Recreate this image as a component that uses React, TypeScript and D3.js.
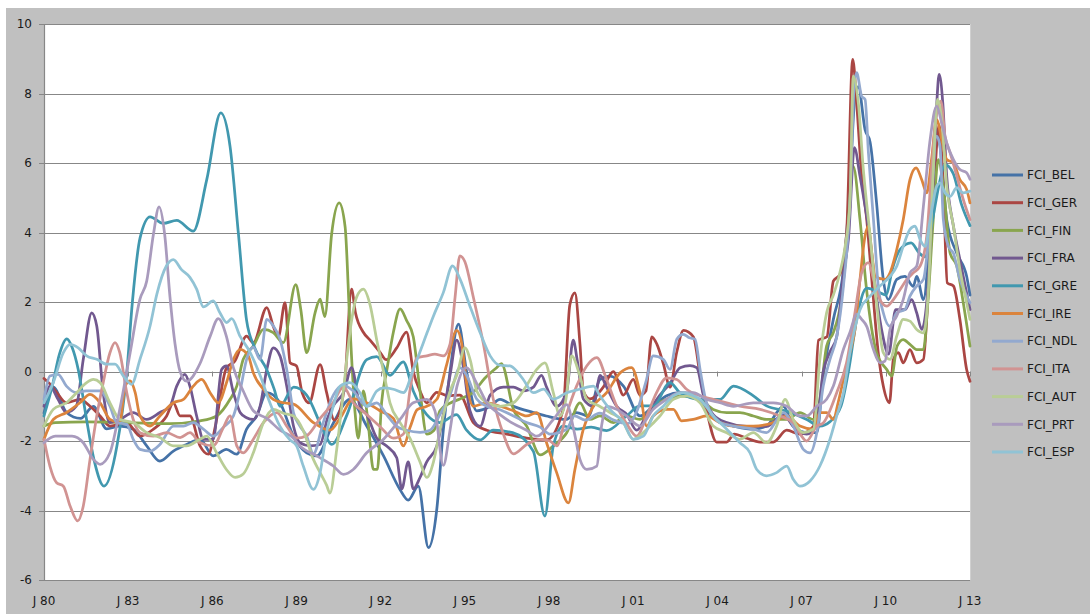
import React from "react";
import * as d3 from "d3";

type P = [number, number];

const seriesNames = ["FCI_BEL","FCI_GER","FCI_FIN","FCI_FRA","FCI_GRE","FCI_IRE","FCI_NDL","FCI_ITA","FCI_AUT","FCI_PRT","FCI_ESP"];
const seriesColors = ["#4572A7","#AA4643","#89A54E","#71588F","#4198AF","#DB843D","#93A9CF","#D19392","#B9CD96","#A99BBD","#91C3D5"];

const yTicks = [-6,-4,-2,0,2,4,6,8,10];
const xTickYears = [1980,1983,1986,1989,1992,1995,1998,2001,2004,2007,2010,2013];
const xTickLabels = ["J 80","J 83","J 86","J 89","J 92","J 95","J 98","J 01","J 04","J 07","J 10","J 13"];

const BEL: P[] = [[1980.0,-1.2],[1980.33,-0.45],[1980.8,-1.18],[1981.3,-1.35],[1981.76,-1.0],[1982.23,-1.65],[1982.7,-1.57],[1983.18,-1.66],[1983.66,-2.14],[1984.13,-2.58],[1984.61,-2.29],[1985.08,-2.1],[1985.56,-1.95],[1986.03,-2.43],[1986.5,-2.24],[1986.87,-2.38],[1987.22,-1.66],[1987.58,-1.28],[1987.94,-0.61],[1988.41,-0.9],[1988.89,-1.86],[1989.36,-2.34],[1989.72,-2.43],[1990.3,-1.5],[1990.9,-0.8],[1991.5,-1.57],[1992.1,-2.43],[1992.69,-3.4],[1992.98,-3.7],[1993.34,-3.3],[1993.7,-5.07],[1994.0,-3.95],[1994.23,-1.69],[1994.47,0.0],[1994.77,1.36],[1995.06,0.0],[1995.42,-1.13],[1995.9,-1.0],[1996.25,-0.8],[1996.73,-1.0],[1997.44,-1.18],[1997.9,-1.28],[1998.6,-1.38],[1998.98,-1.18],[1999.4,-1.28],[1999.81,-0.23],[2000.17,-0.13],[2000.65,-0.42],[2001.24,-1.28],[2001.7,-1.0],[2002.19,-0.7],[2002.66,-0.61],[2003.14,-0.7],[2003.61,-1.09],[2004.09,-1.47],[2004.57,-1.57],[2005.28,-1.66],[2005.75,-1.57],[2006.35,-1.0],[2006.7,-1.57],[2007.18,-1.76],[2007.54,-1.76],[2007.77,-0.13],[2008.13,1.5],[2008.49,2.94],[2008.72,5.33],[2008.9,7.92],[2009.02,8.2],[2009.26,6.96],[2009.44,6.6],[2009.67,4.85],[2009.91,2.65],[2010.09,2.07],[2010.39,2.65],[2010.68,2.74],[2010.98,2.45],[2011.1,2.74],[2011.34,2.07],[2011.63,4.85],[2011.81,6.96],[2011.93,6.5],[2012.17,4.37],[2012.53,3.4],[2012.88,2.74],[2013.0,2.2]];

const GER: P[] = [[1980.0,-0.2],[1980.2,-0.35],[1980.45,-0.6],[1980.8,-0.9],[1981.28,-0.8],[1981.64,-1.0],[1982.0,-1.28],[1982.35,-1.57],[1982.95,-1.47],[1983.42,-1.86],[1983.9,-1.66],[1984.37,-1.28],[1984.61,-0.9],[1984.85,-1.28],[1985.2,-1.28],[1985.56,-2.14],[1985.86,-2.38],[1986.1,-1.6],[1986.5,0.1],[1986.8,0.3],[1987.22,1.02],[1987.46,0.83],[1987.94,1.84],[1988.17,1.3],[1988.35,1.0],[1988.59,1.98],[1988.77,0.25],[1989.0,0.16],[1989.2,-0.61],[1989.45,-0.9],[1989.84,0.2],[1990.07,-0.6],[1990.35,-1.4],[1990.7,-0.5],[1990.96,2.37],[1991.1,1.69],[1991.38,1.13],[1991.62,0.9],[1991.97,0.56],[1992.2,0.34],[1992.57,0.68],[1992.92,1.13],[1993.16,0.0],[1993.4,-0.56],[1993.64,-0.9],[1994.0,-0.6],[1994.4,-0.7],[1994.82,-0.68],[1995.3,-1.47],[1995.78,-1.69],[1996.49,-1.8],[1997.2,-1.92],[1997.91,-1.97],[1998.5,-1.1],[1998.74,1.92],[1998.92,2.26],[1999.1,0.79],[1999.22,-0.56],[1999.46,-0.79],[1999.93,-0.45],[2000.29,0.0],[2000.65,-0.68],[2001.0,-0.23],[2001.24,-0.68],[2001.45,-0.56],[2001.66,1.0],[2001.84,0.79],[2002.07,0.23],[2002.31,-0.45],[2002.55,0.56],[2002.79,1.18],[2003.14,1.0],[2003.38,-0.11],[2003.62,-1.13],[2003.97,-2.03],[2004.33,-2.03],[2004.6,-1.8],[2005.04,-1.92],[2005.52,-2.03],[2005.99,-2.03],[2006.47,-1.69],[2006.94,-1.8],[2007.42,-1.58],[2007.6,0.9],[2007.9,1.0],[2008.13,2.6],[2008.37,2.8],[2008.6,3.95],[2008.82,8.98],[2008.96,7.73],[2009.14,5.62],[2009.32,4.37],[2009.5,2.65],[2009.73,0.54],[2009.91,-0.42],[2010.13,-0.9],[2010.27,0.35],[2010.45,0.54],[2010.62,0.25],[2010.86,0.63],[2011.1,0.25],[2011.34,0.35],[2011.52,2.46],[2011.72,5.33],[2011.9,7.1],[2012.05,5.33],[2012.19,2.55],[2012.41,2.46],[2012.64,1.5],[2012.88,0.06],[2013.0,-0.28]];

const FIN: P[] = [[1980.0,-1.57],[1980.4,-1.47],[1981.5,-1.45],[1983.0,-1.47],[1984.5,-1.5],[1985.56,-1.42],[1986.15,-1.28],[1986.63,-0.8],[1986.87,-0.42],[1987.1,0.35],[1987.46,0.73],[1987.82,1.21],[1988.17,1.12],[1988.53,0.83],[1988.97,2.5],[1989.15,1.79],[1989.36,0.54],[1989.66,1.69],[1989.84,2.08],[1990.01,1.58],[1990.25,3.95],[1990.52,4.85],[1990.73,4.17],[1990.9,1.35],[1991.08,-1.13],[1991.2,-1.92],[1991.38,-0.56],[1991.55,-1.47],[1991.74,-2.82],[1991.88,-2.82],[1992.03,-0.9],[1992.21,0.0],[1992.45,1.13],[1992.69,1.8],[1992.92,1.47],[1993.16,1.0],[1993.4,-0.56],[1993.64,-1.8],[1993.9,-1.69],[1994.11,-1.13],[1994.5,-0.9],[1994.82,-0.79],[1995.3,-0.6],[1995.7,-0.2],[1996.13,0.11],[1996.3,0.23],[1996.73,-1.09],[1997.2,-1.57],[1997.68,-2.4],[1998.15,-2.14],[1998.63,-1.76],[1999.1,-0.9],[1999.45,-1.38],[1999.81,-1.28],[2000.3,-1.47],[2000.76,-1.28],[2001.24,-1.38],[2001.71,-1.0],[2002.19,-0.8],[2002.66,-0.7],[2003.38,-0.8],[2003.85,-1.09],[2004.33,-1.18],[2004.8,-1.18],[2005.28,-1.28],[2005.75,-1.38],[2006.47,-1.38],[2006.94,-1.18],[2007.42,-1.38],[2007.65,-0.8],[2007.89,0.73],[2008.13,1.12],[2008.4,2.0],[2008.6,3.5],[2008.84,5.9],[2009.08,4.37],[2009.3,2.46],[2009.67,0.54],[2010.03,0.06],[2010.21,-0.13],[2010.4,0.73],[2010.62,0.92],[2010.86,0.78],[2011.1,0.63],[2011.34,0.63],[2011.5,2.0],[2011.69,4.37],[2011.87,6.1],[2012.05,5.33],[2012.29,3.41],[2012.53,3.03],[2012.76,1.98],[2013.0,0.73]];

const FRA: P[] = [[1980.0,-1.0],[1980.21,-0.42],[1980.5,-0.8],[1980.8,-1.18],[1981.15,-1.0],[1981.4,0.35],[1981.7,1.69],[1981.88,1.31],[1982.11,-0.61],[1982.35,-1.47],[1982.7,-1.38],[1983.18,-1.18],[1983.66,-1.38],[1984.13,-1.18],[1984.49,-1.0],[1984.73,-0.42],[1985.02,-0.08],[1985.2,-0.42],[1985.44,-1.28],[1985.68,-1.95],[1986.03,-1.95],[1986.33,0.06],[1986.5,0.16],[1986.75,-0.61],[1986.99,-1.18],[1987.22,-1.33],[1987.46,-1.38],[1987.7,-1.0],[1987.94,0.06],[1988.17,0.68],[1988.41,0.45],[1988.65,-0.42],[1988.89,-1.57],[1989.12,-2.05],[1989.48,-2.14],[1989.84,-2.1],[1990.1,-1.35],[1990.3,-1.0],[1990.7,-0.56],[1990.96,0.11],[1991.26,-1.0],[1991.5,-1.24],[1991.86,-1.92],[1992.2,-2.14],[1992.57,-2.48],[1992.75,-3.38],[1992.98,-2.6],[1993.16,-3.38],[1993.4,-3.05],[1993.64,-2.6],[1994.0,-2.14],[1994.23,-1.24],[1994.47,-0.11],[1994.71,0.9],[1994.95,0.11],[1995.18,-1.13],[1995.54,-1.58],[1995.9,-0.68],[1996.37,-0.45],[1996.73,-0.45],[1997.08,-0.56],[1997.44,-0.45],[1997.73,-0.11],[1997.91,-0.45],[1998.27,-1.0],[1998.63,-0.56],[1998.86,0.9],[1999.0,0.34],[1999.22,-0.79],[1999.58,-1.0],[1999.82,-0.11],[2000.05,-0.45],[2000.41,-1.0],[2000.77,-1.24],[2001.12,-1.69],[2001.48,-1.24],[2001.95,-0.68],[2002.31,-0.34],[2002.67,0.11],[2003.02,0.17],[2003.26,0.11],[2003.5,-0.68],[2003.85,-1.24],[2004.33,-1.47],[2005.04,-1.58],[2005.75,-1.58],[2006.35,-1.24],[2006.7,-1.58],[2007.18,-1.8],[2007.54,-1.47],[2007.77,0.0],[2008.01,0.56],[2008.25,1.0],[2008.49,2.82],[2008.67,3.83],[2008.88,6.44],[2009.08,5.62],[2009.26,4.76],[2009.44,3.8],[2009.62,2.46],[2009.85,1.2],[2010.1,0.5],[2010.35,1.78],[2010.68,1.78],[2010.92,2.07],[2011.1,1.69],[2011.28,1.21],[2011.46,2.0],[2011.63,4.37],[2011.81,7.64],[2011.9,8.55],[2012.03,7.73],[2012.17,5.62],[2012.41,4.18],[2012.64,3.22],[2012.88,2.26],[2013.0,1.78]];

const GRE: P[] = [[1980.0,-1.28],[1980.3,-0.4],[1980.55,0.5],[1980.81,0.94],[1981.0,0.7],[1981.22,0.06],[1981.5,-1.3],[1981.8,-2.6],[1982.14,-3.3],[1982.6,-2.14],[1982.95,-0.03],[1983.15,2.0],[1983.42,3.83],[1983.78,4.45],[1984.25,4.26],[1984.73,4.35],[1985.32,4.04],[1985.8,5.52],[1986.3,7.44],[1986.63,6.48],[1986.93,3.95],[1987.22,1.47],[1987.5,0.7],[1987.94,0.05],[1988.2,-0.5],[1988.41,-1.0],[1988.9,-0.45],[1989.36,-0.68],[1989.95,-1.69],[1990.25,-2.1],[1990.8,-1.24],[1991.5,0.34],[1991.86,0.43],[1992.33,-0.11],[1992.8,0.28],[1993.16,-0.56],[1993.64,-1.24],[1994.11,-1.47],[1994.7,-1.24],[1995.06,-1.69],[1995.54,-1.97],[1996.01,-1.69],[1996.7,-1.76],[1997.44,-2.3],[1997.85,-4.16],[1998.15,-2.14],[1998.5,-1.57],[1999.0,-1.66],[1999.5,-1.6],[2000.05,-1.7],[2000.76,-1.28],[2001.24,-0.99],[2001.71,-0.99],[2002.31,-0.32],[2002.66,-0.61],[2003.38,-0.8],[2004.09,-0.8],[2004.57,-0.42],[2005.28,-0.7],[2005.75,-0.99],[2006.47,-1.14],[2007.18,-1.38],[2007.65,-1.57],[2008.0,-1.45],[2008.4,-1.0],[2008.7,0.15],[2008.96,1.5],[2009.32,2.4],[2009.7,2.3],[2010.0,2.2],[2010.25,3.0],[2010.5,3.5],[2010.9,3.7],[2011.2,3.4],[2011.4,3.3],[2011.65,4.3],[2011.93,5.5],[2012.1,5.95],[2012.4,5.7],[2012.7,4.8],[2013.0,4.2]];

const IRE: P[] = [[1980.0,-1.95],[1980.33,-1.38],[1980.8,-1.18],[1981.28,-0.9],[1981.64,-0.66],[1982.0,-0.9],[1982.35,-1.38],[1982.7,-1.47],[1982.89,-0.42],[1983.07,-0.27],[1983.25,-0.61],[1983.42,-1.28],[1983.78,-1.57],[1984.13,-1.28],[1984.61,-0.9],[1984.97,-0.8],[1985.32,-0.42],[1985.62,-0.23],[1985.92,-0.61],[1986.21,-0.9],[1986.5,-0.33],[1986.75,0.35],[1986.99,0.64],[1987.28,0.45],[1987.46,-0.04],[1987.82,-0.51],[1988.17,-0.8],[1988.53,-0.9],[1988.89,-0.94],[1989.6,-1.47],[1990.19,-1.69],[1990.55,-1.35],[1991.02,-0.79],[1991.5,-0.9],[1991.97,-1.13],[1992.45,-1.35],[1992.81,-2.14],[1993.05,-1.6],[1993.3,-1.1],[1993.64,-1.0],[1994.0,-0.8],[1994.35,0.2],[1994.71,1.18],[1994.89,0.79],[1995.06,-0.34],[1995.3,-1.0],[1995.78,-0.9],[1996.25,-1.0],[1996.73,-1.13],[1997.2,-1.28],[1997.56,-1.18],[1997.91,-2.05],[1998.27,-2.91],[1998.69,-3.78],[1998.92,-2.82],[1999.22,-1.66],[1999.58,-1.0],[2000.05,-0.61],[2000.53,-0.04],[2000.94,0.11],[2001.24,-0.61],[2001.48,-1.57],[2001.71,-1.28],[2002.19,-1.09],[2002.43,-1.09],[2002.72,-1.42],[2003.14,-1.38],[2003.61,-1.28],[2004.09,-1.47],[2004.57,-1.57],[2005.28,-1.57],[2005.99,-1.47],[2006.47,-1.28],[2006.94,-1.57],[2007.42,-1.66],[2007.65,-1.18],[2007.89,-1.18],[2008.13,-1.38],[2008.3,-0.9],[2008.49,-0.23],[2008.72,0.54],[2008.9,1.2],[2009.08,2.65],[2009.26,3.9],[2009.38,4.18],[2009.5,3.41],[2009.62,2.74],[2009.97,2.65],[2010.15,2.84],[2010.39,3.51],[2010.62,4.37],[2010.86,5.52],[2011.08,5.86],[2011.28,5.52],[2011.46,5.14],[2011.63,6.1],[2011.81,7.25],[2011.99,6.68],[2012.17,6.1],[2012.41,6.0],[2012.64,5.52],[2012.88,5.24],[2013.0,4.85]];

const NDL: P[] = [[1980.0,-0.8],[1980.21,-0.13],[1980.5,-0.08],[1980.8,-0.42],[1981.16,-0.61],[1981.5,-0.56],[1982.0,-0.56],[1982.35,-1.0],[1982.59,-1.47],[1982.95,-1.52],[1983.18,-1.95],[1983.42,-2.24],[1983.78,-2.29],[1984.13,-2.1],[1984.61,-1.57],[1984.97,-1.57],[1985.32,-1.47],[1985.68,-1.66],[1986.03,-1.86],[1986.4,-1.6],[1986.75,-1.28],[1987.0,-0.51],[1987.22,0.35],[1987.46,0.7],[1987.7,0.35],[1987.94,1.5],[1988.17,1.31],[1988.41,0.93],[1988.65,0.06],[1988.89,-1.18],[1989.12,-1.57],[1989.36,-1.86],[1989.6,-2.37],[1989.95,-1.47],[1990.31,-0.68],[1990.67,-0.4],[1991.02,-0.56],[1991.5,-1.0],[1991.86,-0.9],[1992.21,-1.24],[1992.57,-1.58],[1992.92,-1.69],[1993.4,-1.75],[1993.76,-1.69],[1994.11,-1.24],[1994.47,-0.68],[1994.82,0.11],[1995.06,-0.11],[1995.42,-0.79],[1995.78,-1.0],[1996.25,-1.1],[1996.73,-1.28],[1997.2,-1.47],[1997.68,-1.6],[1998.03,-1.8],[1998.63,-1.66],[1998.9,-1.28],[1999.3,-1.4],[1999.8,-1.2],[2000.3,-1.4],[2000.8,-1.5],[2001.1,-1.2],[2001.45,-0.3],[2001.71,0.45],[2002.07,0.35],[2002.31,0.06],[2002.55,0.93],[2002.78,1.07],[2003.0,0.97],[2003.2,0.93],[2003.38,0.06],[2003.61,-0.9],[2004.09,-1.47],[2004.57,-1.57],[2005.28,-1.66],[2005.75,-1.76],[2006.35,-1.18],[2006.7,-1.57],[2007.06,-2.24],[2007.3,-2.34],[2007.54,-1.76],[2007.77,-0.42],[2008.01,0.35],[2008.25,1.0],[2008.49,2.46],[2008.72,4.85],[2008.87,8.2],[2008.96,8.6],[2009.14,7.92],[2009.26,7.83],[2009.38,6.3],[2009.56,4.37],[2009.73,2.46],[2009.91,1.69],[2010.15,1.3],[2010.39,1.69],[2010.68,1.78],[2010.86,2.17],[2011.1,2.46],[2011.34,2.65],[2011.58,4.37],[2011.81,6.77],[2011.93,6.5],[2012.05,4.37],[2012.23,3.6],[2012.41,3.4],[2012.64,2.65],[2012.88,2.17],[2013.0,1.98]];

const ITA: P[] = [[1980.0,-1.95],[1980.21,-2.72],[1980.45,-3.2],[1980.69,-3.3],[1980.93,-3.87],[1981.2,-4.3],[1981.4,-3.87],[1981.64,-2.53],[1981.88,-1.28],[1982.11,-0.32],[1982.35,0.54],[1982.53,0.83],[1982.7,0.54],[1982.95,-0.61],[1983.18,-1.38],[1983.42,-1.76],[1983.9,-1.86],[1984.37,-1.76],[1984.85,-1.9],[1985.2,-1.76],[1985.56,-2.05],[1986.03,-2.14],[1986.4,-1.6],[1986.63,-1.28],[1986.87,-2.14],[1987.1,-2.34],[1987.46,-1.95],[1987.82,-1.47],[1988.3,-1.18],[1988.65,-1.57],[1989.0,-1.92],[1989.36,-1.85],[1989.84,-1.35],[1990.3,-0.9],[1990.67,-0.45],[1991.02,-0.9],[1991.5,-1.24],[1991.97,-1.58],[1992.45,-1.92],[1992.81,-1.8],[1993.05,-0.5],[1993.28,0.39],[1993.64,0.45],[1993.93,0.5],[1994.23,0.45],[1994.47,0.79],[1994.65,2.14],[1994.82,3.33],[1995.0,3.16],[1995.3,2.14],[1995.66,0.79],[1996.01,-0.79],[1996.37,-1.8],[1996.73,-2.37],[1997.2,-2.1],[1997.68,-1.95],[1998.03,-2.0],[1998.27,-2.14],[1998.63,-1.2],[1998.98,-0.42],[1999.34,0.16],[1999.7,0.4],[2000.05,-0.23],[2000.41,-1.0],[2000.76,-1.5],[2001.12,-1.86],[2001.48,-1.28],[2001.83,-0.61],[2002.19,-0.18],[2002.55,-0.23],[2002.9,-0.51],[2003.38,-0.7],[2003.85,-0.8],[2004.33,-0.9],[2004.8,-1.0],[2005.52,-1.09],[2006.23,-1.28],[2006.7,-1.47],[2007.18,-2.0],[2007.54,-1.57],[2007.77,-1.48],[2008.25,-0.61],[2008.6,0.25],[2008.9,1.69],[2009.14,2.84],[2009.38,3.13],[2009.56,2.65],[2009.73,2.17],[2010.03,1.88],[2010.27,2.07],[2010.51,2.36],[2010.75,2.65],[2010.98,2.84],[2011.22,3.03],[2011.46,3.9],[2011.63,5.8],[2011.81,7.44],[2011.96,7.78],[2012.11,6.77],[2012.29,6.3],[2012.53,5.62],[2012.76,4.95],[2013.0,4.37]];

const AUT: P[] = [[1980.0,-1.57],[1980.33,-1.09],[1980.8,-0.9],[1981.16,-0.61],[1981.52,-0.32],[1981.76,-0.23],[1982.0,-0.32],[1982.35,-0.9],[1982.7,-1.38],[1983.18,-1.47],[1983.66,-1.76],[1984.13,-1.9],[1984.61,-2.14],[1985.08,-2.14],[1985.56,-1.95],[1985.8,-1.86],[1986.15,-2.34],[1986.5,-2.82],[1986.81,-3.05],[1987.1,-2.95],[1987.46,-2.34],[1987.82,-1.47],[1988.17,-1.09],[1988.53,-1.2],[1988.89,-1.28],[1989.24,-1.7],[1989.6,-2.53],[1989.84,-2.91],[1990.07,-3.27],[1990.19,-3.5],[1990.43,-2.25],[1990.67,-0.56],[1990.9,1.13],[1991.14,2.14],[1991.38,2.37],[1991.62,1.92],[1991.86,0.9],[1992.1,0.0],[1992.33,-0.9],[1992.69,-1.47],[1993.04,-1.92],[1993.4,-2.6],[1993.64,-3.05],[1993.88,-2.6],[1994.11,-1.69],[1994.5,-0.5],[1994.71,-0.11],[1995.0,0.68],[1995.2,0.3],[1995.42,-0.56],[1995.8,-0.9],[1996.25,-1.0],[1996.73,-0.9],[1997.2,-0.4],[1997.56,0.06],[1997.85,0.25],[1998.15,-0.61],[1998.39,-1.28],[1998.6,-0.8],[1998.8,0.45],[1999.1,-0.13],[1999.34,-0.8],[1999.8,-1.0],[2000.17,-1.18],[2000.6,-1.4],[2001.0,-1.95],[2001.48,-1.66],[2001.95,-1.28],[2002.43,-0.8],[2002.9,-0.7],[2003.38,-0.9],[2003.85,-1.57],[2004.33,-1.76],[2004.8,-1.95],[2005.28,-1.76],[2005.75,-2.05],[2006.11,-1.57],[2006.41,-0.8],[2006.7,-1.38],[2007.06,-1.76],[2007.42,-1.66],[2007.65,0.35],[2007.89,1.69],[2008.13,2.2],[2008.35,2.8],[2008.55,3.6],[2008.72,4.85],[2008.84,8.5],[2009.02,7.73],[2009.2,5.8],[2009.44,3.9],[2009.67,1.98],[2009.91,0.54],[2010.15,0.35],[2010.39,1.02],[2010.62,1.5],[2010.86,1.45],[2011.1,1.21],[2011.34,1.11],[2011.52,2.4],[2011.69,5.8],[2011.84,7.83],[2011.99,7.25],[2012.17,5.33],[2012.41,4.18],[2012.64,2.94],[2012.88,1.98],[2013.0,1.5]];

const PRT: P[] = [[1980.0,-2.05],[1980.4,-1.86],[1981.0,-1.86],[1981.4,-2.05],[1981.76,-2.53],[1982.0,-2.67],[1982.35,-2.34],[1982.7,-1.09],[1983.07,0.54],[1983.42,2.08],[1983.66,2.6],[1983.9,3.95],[1984.1,4.74],[1984.3,3.95],[1984.49,2.14],[1984.67,0.79],[1984.85,0.0],[1985.08,-0.28],[1985.56,0.23],[1985.92,1.01],[1986.21,1.52],[1986.5,1.01],[1986.75,0.11],[1987.1,-0.56],[1987.46,-1.13],[1987.94,-1.35],[1988.41,-1.69],[1988.89,-1.92],[1989.12,-2.14],[1989.72,-2.43],[1990.31,-2.72],[1990.67,-2.96],[1991.02,-2.82],[1991.5,-2.34],[1992.1,-1.95],[1992.69,-1.38],[1993.16,-0.9],[1993.64,-0.8],[1993.93,-1.13],[1994.23,-2.7],[1994.47,-1.69],[1994.71,-0.45],[1995.06,0.11],[1995.42,-0.34],[1995.78,-0.9],[1996.25,-1.24],[1996.73,-1.5],[1997.2,-1.69],[1997.56,-1.86],[1998.15,-1.38],[1998.63,-0.95],[1998.9,-1.76],[1999.1,-2.53],[1999.34,-2.82],[1999.7,-2.72],[1999.87,-1.57],[2000.05,-1.0],[2000.41,-1.09],[2000.76,-1.28],[2001.24,-1.57],[2001.71,-1.09],[2002.19,-0.8],[2002.66,-0.61],[2003.14,-0.61],[2003.61,-0.8],[2004.09,-0.9],[2004.57,-1.0],[2005.28,-0.9],[2005.99,-0.9],[2006.47,-1.0],[2006.94,-1.28],[2007.18,-1.28],[2007.54,-1.0],[2007.89,-0.8],[2008.13,-0.42],[2008.49,0.64],[2008.72,1.12],[2008.96,1.65],[2009.14,1.5],[2009.32,1.3],[2009.56,0.63],[2009.79,0.25],[2009.97,0.3],[2010.15,1.21],[2010.39,1.6],[2010.62,2.07],[2010.86,2.84],[2011.1,3.03],[2011.34,4.76],[2011.58,6.68],[2011.81,7.64],[2011.99,7.15],[2012.17,6.58],[2012.41,6.1],[2012.64,5.81],[2012.88,5.72],[2013.0,5.53]];

const ESP: P[] = [[1980.0,-0.9],[1980.33,-0.32],[1980.69,0.54],[1980.93,0.78],[1981.22,0.68],[1981.52,0.45],[1981.88,0.35],[1982.23,0.21],[1982.53,0.21],[1982.83,-0.13],[1983.12,-0.37],[1983.42,0.35],[1983.78,1.31],[1984.02,2.22],[1984.37,3.05],[1984.61,3.22],[1984.9,2.93],[1985.2,2.71],[1985.44,2.37],[1985.68,1.86],[1986.03,2.03],[1986.27,1.69],[1986.51,1.41],[1986.69,1.52],[1986.99,1.01],[1987.34,0.56],[1987.7,-0.11],[1988.05,-0.9],[1988.41,-1.58],[1988.77,-1.97],[1989.0,-2.14],[1989.24,-2.72],[1989.6,-3.39],[1989.84,-2.91],[1990.07,-1.76],[1990.31,-1.0],[1990.55,-0.42],[1990.9,-0.32],[1991.26,-0.61],[1991.5,-1.0],[1991.86,-0.56],[1992.1,-0.47],[1992.45,-0.51],[1992.81,-0.61],[1993.16,0.06],[1993.52,0.83],[1993.88,1.6],[1994.23,2.27],[1994.56,3.04],[1994.83,2.65],[1995.18,1.88],[1995.54,1.12],[1995.9,0.45],[1996.25,0.18],[1996.61,0.16],[1996.9,-0.04],[1997.08,-0.23],[1997.44,-0.61],[1997.8,-0.51],[1998.15,-0.8],[1998.63,-0.61],[1999.1,-0.51],[1999.58,-0.42],[1999.81,-0.7],[2000.17,-1.09],[2000.65,-1.47],[2001.0,-1.95],[2001.36,-1.86],[2001.71,-1.28],[2002.07,-1.0],[2002.43,-0.7],[2002.78,-0.61],[2003.14,-0.7],[2003.38,-0.8],[2003.85,-1.28],[2004.33,-1.66],[2004.8,-2.05],[2005.16,-2.34],[2005.4,-2.82],[2005.75,-3.0],[2006.11,-2.91],[2006.47,-2.72],[2006.7,-3.1],[2006.94,-3.3],[2007.3,-3.15],[2007.65,-2.72],[2008.01,-1.95],[2008.25,-1.28],[2008.49,-0.61],[2008.72,0.54],[2009.08,1.78],[2009.44,2.17],[2009.79,2.46],[2010.15,2.74],[2010.39,3.03],[2010.62,3.6],[2010.86,4.09],[2011.04,4.18],[2011.22,3.8],[2011.4,3.6],[2011.58,4.37],[2011.81,5.33],[2011.93,5.43],[2012.11,5.14],[2012.29,5.04],[2012.53,5.29],[2012.76,5.14],[2013.0,5.19]];

const allSeries: P[][] = [BEL, GER, FIN, FRA, GRE, IRE, NDL, ITA, AUT, PRT, ESP];

// layout (page coords minus svg offset)
const OX = 6, OY = 8;
const W = 1084, H = 606;
const left = 44 - OX, right = 970 - OX, top = 24 - OY, bottom = 580 - OY;
const FONT = "'DejaVu Sans', Verdana, sans-serif";

export default function App() {
  const x = d3.scaleLinear().domain([1980, 2013]).range([left, right]);
  const y = d3.scaleLinear().domain([-6, 10]).range([bottom, top]);
  const line = d3.line<P>().x(d => x(d[0])).y(d => y(d[1])).curve(d3.curveMonotoneX);
  const grid = "#878787";
  const legendX = 992 - OX;
  const legendY0 = 175 - OY;
  const legendStep = 27.7;
  return (
    <svg width={W} height={H} style={{ position: "absolute", left: OX, top: OY, display: "block" }}>
      <rect x={0} y={0} width={W} height={H} fill="#C0C0C0" />
      <rect x={left} y={top} width={right - left} height={bottom - top} fill="#FFFFFF" />
      <line x1={right + 0.5} x2={right + 0.5} y1={top} y2={bottom} stroke="#D0D0D0" />
      {yTicks.map(v => (
        <g key={"gy" + v}>
          <line x1={left - 5} x2={right} y1={Math.round(y(v)) + 0.5} y2={Math.round(y(v)) + 0.5} stroke={grid} strokeWidth={1.2} />
          <text x={32 - OX} y={y(v)} dy="0.35em" textAnchor="end" fontFamily={FONT} fontSize={12} fill="#1a1a1a">{v}</text>
        </g>
      ))}
      <line x1={left + 0.5} x2={left + 0.5} y1={top} y2={bottom} stroke={grid} strokeWidth={1.2} />
      {xTickYears.map((t, i) => (
        <g key={"gx" + t}>
          <line x1={Math.round(x(t)) + 0.5} x2={Math.round(x(t)) + 0.5} y1={y(0)} y2={y(0) + 5} stroke={grid} />
          <text x={x(t)} y={605 - OY} textAnchor="middle" fontFamily={FONT} fontSize={12} fill="#1a1a1a">{xTickLabels[i]}</text>
        </g>
      ))}
      <g>
        {allSeries.map((s, i) => (
          <path key={seriesNames[i]} d={line(s) || ""} fill="none" stroke={seriesColors[i]} strokeWidth={2.75} strokeLinejoin="round" strokeLinecap="round" />
        ))}
      </g>
      <g>
        {seriesNames.map((n, i) => (
          <g key={"lg" + n} transform={`translate(${legendX},${legendY0 + i * legendStep})`}>
            <line x1={0} x2={31} y1={0} y2={0} stroke={seriesColors[i]} strokeWidth={3} />
            <text x={35} y={0} dy="0.35em" fontFamily={FONT} fontSize={12} fill="#1a1a1a">{n}</text>
          </g>
        ))}
      </g>
    </svg>
  );
}
